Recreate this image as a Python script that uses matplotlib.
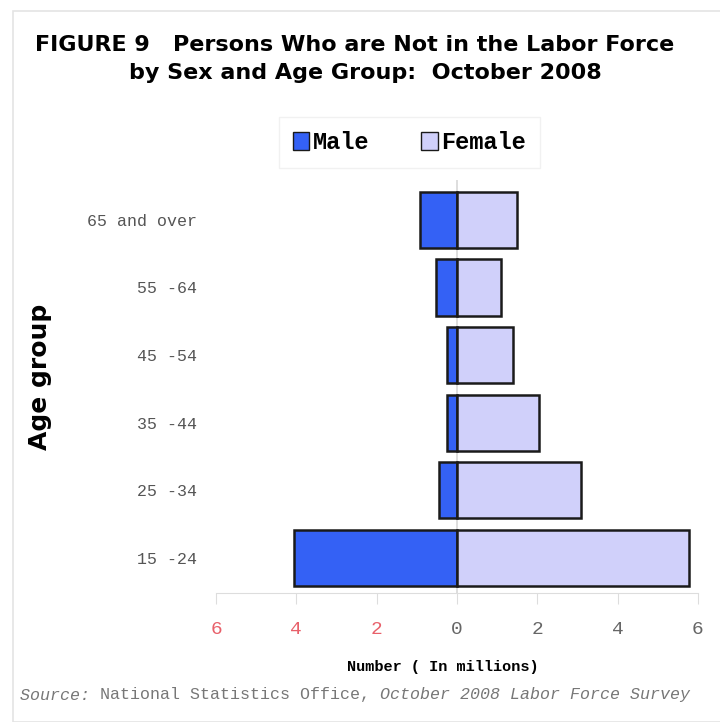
import matplotlib
matplotlib.use("Agg")
import matplotlib.pyplot as plt
from matplotlib.patches import Rectangle, Patch

# Persons not in the labor force, October 2008 (millions)
age_groups = ["15 -24", "25 -34", "35 -44", "45 -54", "55 -64", "65 and over"]
male = [4.05, 0.44, 0.26, 0.26, 0.53, 0.93]
female = [5.78, 3.09, 2.03, 1.39, 1.09, 1.50]
x_ticks = [-6, -4, -2, 0, 2, 4, 6]
x_ticklabels = ["6", "4", "2", "0", "2", "4", "6"]

male_color = "#3461f5"
female_color = "#d0d0fa"
mono = "Liberation Mono"

fig = plt.figure(figsize=(7.2, 7.22), dpi=100)

# thin frame around the figure
fig.patches.append(Rectangle((13 / 720, 0), 1.2, 1 - 11 / 722, transform=fig.transFigure,
                             fill=False, edgecolor="#e4e4e4", linewidth=1.2))

ax = fig.add_axes([216 / 720, 1 - 593 / 722, (698 - 216) / 720, (593 - 180) / 722])

pos = list(range(len(age_groups)))
ax.axvline(0, color="#d8d8d8", linewidth=1.2, zorder=0)
ax.barh(pos, [-m for m in male], height=0.83, color=male_color, edgecolor="#1a1a1a", linewidth=1.8)
ax.barh(pos, female, height=0.83, color=female_color, edgecolor="#1a1a1a", linewidth=1.8)

ax.set_xlim(-6, 6)
ax.set_ylim(-0.52, 5.59)
ax.set_yticks(pos)
ax.set_yticklabels(age_groups, fontfamily=mono, fontsize=12, color="#555555")
ax.tick_params(axis="y", length=0, pad=14)

ax.set_xticks(x_ticks)
ax.set_xticklabels(x_ticklabels, fontfamily=mono, fontsize=14)
ax.tick_params(axis="x", direction="out", length=8, color="#dddddd", pad=12)
for lbl, v in zip(ax.get_xticklabels(), x_ticks):
    lbl.set_color("#e8606a" if v < 0 else "#666666")

for side in ["top", "right", "left"]:
    ax.spines[side].set_visible(False)
ax.spines["bottom"].set_color("#dddddd")

# titles and labels
fig.text(355 / 720, 1 - 45 / 722, "FIGURE 9   Persons Who are Not in the Labor Force",
         ha="center", va="center", fontsize=16, fontweight="bold", fontfamily="DejaVu Sans")
fig.text(365 / 720, 1 - 73 / 722, "by Sex and Age Group:  October 2008",
         ha="center", va="center", fontsize=16, fontweight="bold", fontfamily="DejaVu Sans")
fig.text(40 / 720, 1 - 377 / 722, "Age group", rotation=90, ha="center", va="center",
         fontsize=18, fontweight="bold", fontfamily="DejaVu Sans")
fig.text(443 / 720, 1 - 667 / 722, "Number ( In millions)", ha="center", va="center",
         fontsize=11, fontweight="bold", fontfamily=mono)

src = fig.text(20 / 720, 1 - 695 / 722, "Source: ", ha="left", va="center",
               fontsize=12, fontstyle="italic", fontfamily=mono, color="#777777")
fig.canvas.draw()
bb = src.get_window_extent()
src2 = fig.text(bb.x1 / 720, 1 - 695 / 722, "National Statistics Office, ", ha="left", va="center",
                fontsize=12, fontfamily=mono, color="#777777")
bb2 = src2.get_window_extent()
fig.text(bb2.x1 / 720, 1 - 695 / 722, "October 2008 Labor Force Survey", ha="left", va="center",
         fontsize=12, fontstyle="italic", fontfamily=mono, color="#777777")

handles = [Patch(facecolor=male_color, edgecolor="#1a1a1a", label="Male"),
           Patch(facecolor=female_color, edgecolor="#1a1a1a", label="Female")]
leg = fig.legend(handles=handles, loc="center", bbox_to_anchor=(409.5 / 720, 1 - 142.5 / 722),
                 ncol=2, frameon=True, fancybox=False, edgecolor="#eeeeee",
                 prop={"family": mono, "weight": "bold", "size": 17},
                 handlelength=0.7, handleheight=0.8, handletextpad=0.15, columnspacing=2.2,
                 borderpad=0.6)

fig.savefig("out.png", dpi=100, facecolor="white")
